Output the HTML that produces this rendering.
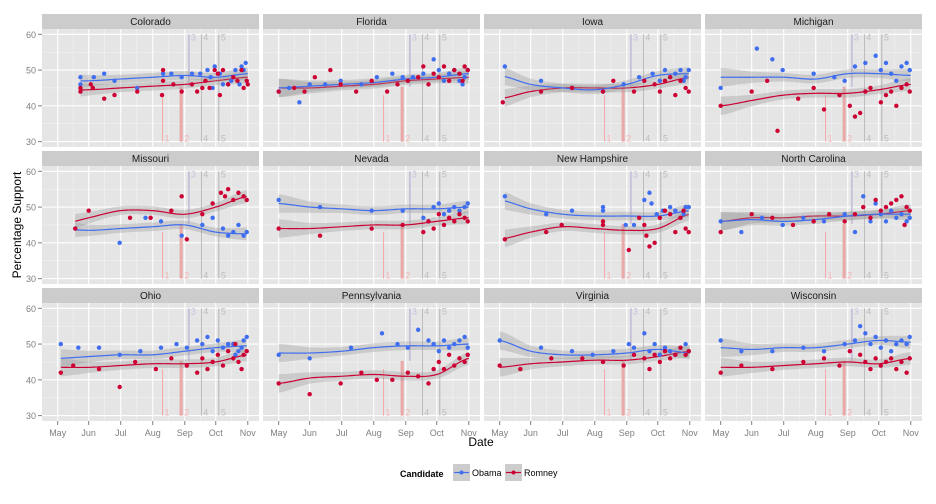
<!DOCTYPE html>
<html><head><meta charset="utf-8"><style>
body{margin:0;background:#fff;}
svg{display:block;font-family:"Liberation Sans",sans-serif;}
</style></head><body>
<svg id="chart" width="936" height="504"></svg>
<script>
const states=["Colorado","Florida","Iowa","Michigan","Missouri","Nevada","New Hampshire","North Carolina","Ohio","Pennsylvania","Virginia","Wisconsin"];
const trendDays=[0,30,61,92,123,153,184];
const trendStart=[22,0,5,0,17,0,5,0,3,0,0,0];
const obamaTrend=[[47,47,47.5,48,48.5,48,49],[45,45.5,46,46.5,47.5,48,49],[48.5,46,45,44.5,46,48.5,49],[48,48,48,47.5,49,49,48.5],[44,43.5,44,44.5,45,43,42.5],[51,50,49.5,49,49.5,49.5,50],[52,49.5,48,47.5,47.5,47.5,49],[46,46.5,46,46.5,47.5,48,48],[46,46.5,47,47,48,49,49.5],[47.5,47.5,48,49,49.5,49.5,50],[51,48,47,47,47.5,48.5,47.5],[49,48.5,49,49,50,51,50.5]];
const romneyTrend=[[44.5,44.5,45,45.5,46,47,48],[45,45,45.5,46,47,47.5,48],[42,44,45,45,45,46,48],[40,41.5,43,43.5,43.5,44.5,46],[45,47,49,49,48,50,53],[44,44,44.5,45,45,46,47],[41,43,44.5,44,43.5,44,48],[46,47,47,47.5,47.5,48,49],[43.5,43.5,44,44.5,44.5,45,47],[39,40.5,41,41.5,41,41.5,46],[43.5,44.5,45,45.5,45.5,46.5,48],[43.5,43.5,44,44.5,45,44.5,46]];
const ciHalf=[2.6,1.6,1.2,1.2,1.2,1.2,1.8];
const obamaPts=[
[[22,48],[22,46],[35,48],[45,49],[55,47],[77,45],[102,49],[110,49],[120,48],[130,49],[138,49],[145,50],[148,48],[152,51],[157,49],[165,46],[168,47],[172,50],[176,46],[178,51],[182,52],[180,50],[160,46],[150,45]],
[[0,44],[10,45],[20,41],[30,46],[45,46],[60,47],[80,46],[95,48],[110,49],[120,48],[130,48],[140,49],[150,53],[155,50],[160,47],[165,49],[170,50],[175,47],[180,48],[183,50],[178,46]],
[[5,51],[40,47],[70,45],[100,44],[120,46],[135,48],[148,49],[155,47],[160,50],[165,48],[170,49],[175,50],[180,48],[183,50],[178,47]],
[[0,45],[35,56],[50,53],[60,50],[90,49],[110,48],[120,47],[130,51],[140,52],[150,54],[155,50],[160,52],[165,49],[170,47],[175,51],[180,52],[183,50]],
[[17,44],[60,40],[85,47],[100,46],[120,42],[140,45],[150,47],[160,44],[165,42],[170,43],[175,45],[180,42],[183,43]],
[[0,52],[40,50],[90,49],[120,49],[140,47],[145,46],[150,50],[155,51],[160,48],[165,49],[170,50],[175,49],[180,50],[183,51]],
[[5,53],[45,48],[70,49],[100,50],[100,49],[122,45],[130,45],[140,52],[145,54],[147,51],[152,48],[158,49],[165,50],[170,49],[175,47],[180,50],[183,50],[178,48]],
[[0,46],[20,43],[40,47],[60,45],[80,47],[100,46],[120,48],[130,43],[138,53],[145,46],[150,51],[155,48],[160,46],[165,49],[170,47],[175,48],[180,46],[183,47]],
[[3,50],[20,49],[40,49],[60,47],[80,48],[100,49],[115,50],[125,49],[135,51],[140,50],[145,52],[150,48],[155,51],[160,49],[165,50],[170,50],[175,48],[180,51],[183,52],[178,49],[172,47]],
[[0,47],[30,46],[70,49],[100,53],[115,50],[125,49],[135,54],[145,51],[150,50],[155,48],[160,51],[165,49],[170,50],[175,51],[180,52],[183,49]],
[[0,51],[40,49],[70,48],[90,47],[110,48],[125,50],[130,49],[140,53],[145,48],[150,50],[155,47],[160,49],[165,48],[170,47],[175,49],[180,50],[183,48]],
[[0,51],[20,48],[50,48],[80,49],[100,48],[120,50],[130,51],[135,55],[140,53],[145,50],[150,52],[155,49],[160,51],[165,48],[170,50],[175,51],[180,50],[183,52]]
];
const romneyPts=[
[[22,45],[22,44],[32,46],[34,45],[45,42],[55,43],[77,44],[101,43],[102,47],[102,50],[112,46],[120,44],[130,46],[135,44],[140,45],[143,47],[147,45],[152,50],[155,49],[157,43],[160,50],[165,46],[170,48],[174,47],[178,50],[180,45],[183,47],[184,46]],
[[0,44],[15,45],[25,44],[35,48],[50,50],[60,46],[75,44],[90,47],[105,44],[115,46],[125,47],[135,48],[140,51],[145,46],[150,49],[155,48],[160,51],[165,47],[170,50],[175,49],[180,51],[183,50],[178,47]],
[[3,41],[40,44],[70,45],[100,44],[110,47],[130,44],[140,47],[150,46],[155,44],[160,47],[165,48],[170,43],[175,47],[180,45],[183,44]],
[[0,40],[30,44],[45,47],[55,33],[75,42],[90,45],[100,39],[115,43],[125,40],[130,37],[135,38],[140,44],[145,45],[155,41],[160,43],[165,44],[170,40],[175,45],[180,46],[183,44]],
[[17,44],[30,49],[70,47],[90,47],[110,49],[120,53],[125,41],[140,48],[150,51],[158,54],[162,53],[165,55],[170,52],[175,54],[180,53],[183,52]],
[[0,44],[40,42],[90,44],[120,45],[140,43],[145,46],[150,44],[155,48],[160,45],[165,47],[170,46],[175,48],[180,47],[183,46]],
[[5,41],[45,43],[60,45],[100,45],[100,46],[125,38],[135,47],[140,45],[142,42],[145,39],[150,40],[155,47],[160,49],[165,48],[170,43],[175,47],[180,44],[183,43],[178,49]],
[[0,43],[30,48],[50,47],[70,45],[90,46],[105,48],[120,46],[130,48],[138,50],[145,47],[150,52],[155,49],[160,50],[165,51],[170,52],[175,53],[180,50],[183,49],[178,45]],
[[3,42],[15,44],[40,43],[60,38],[75,45],[95,43],[110,46],[125,44],[135,42],[140,46],[145,43],[150,45],[155,47],[160,44],[165,48],[170,46],[175,45],[180,47],[183,48],[178,43],[172,50]],
[[0,39],[30,36],[60,39],[80,42],[95,40],[110,40],[125,42],[135,41],[145,39],[150,43],[155,45],[160,43],[165,47],[170,44],[175,46],[180,45],[183,47]],
[[0,44],[20,43],[50,46],[80,46],[100,45],[120,44],[130,47],[140,46],[145,43],[150,47],[155,45],[160,48],[165,46],[170,47],[175,49],[180,47],[183,48]],
[[0,42],[20,44],[50,43],[80,45],[100,46],[115,44],[125,48],[135,47],[140,45],[145,43],[150,46],[155,44],[160,45],[165,46],[170,43],[175,45],[180,42],[183,46]]
];
const yTicks=[30,40,50,60];
const monthLabels=["May","Jun","Jul","Aug","Sep","Oct","Nov"];
const monthDays=[0,30,61,92,123,153,184];
const eventDays=[101.5,119.5,127,139,156];

const NS="http://www.w3.org/2000/svg";
const svg=document.getElementById("chart");
function mk(tag,attrs,parent){const e=document.createElementNS(NS,tag);for(const k in attrs)e.setAttribute(k,attrs[k]);(parent||svg).appendChild(e);return e;}
const PW=217,PH=118,colX=c=>42+221*c,rowY=r=>29+137*r;
const xs=(c,d)=>colX(c)+15.7+d*1.033;
const ys=(r,v)=>rowY(r)+5.3+(60-v)*3.577;
function interp(arr,d){for(let i=0;i<trendDays.length-1;i++){if(d<=trendDays[i+1]){const t=(d-trendDays[i])/(trendDays[i+1]-trendDays[i]);const p0=arr[Math.max(0,i-1)],p1=arr[i],p2=arr[i+1],p3=arr[Math.min(arr.length-1,i+2)];const t2=t*t,t3=t2*t;return 0.5*((2*p1)+(-p0+p2)*t+(2*p0-5*p1+4*p2-p3)*t2+(-p0+3*p1-3*p2+p3)*t3);}}return arr[arr.length-1];}
function ciAt(d){return interp(ciHalf,d);}

states.forEach((name,i)=>{
  const c=i%4,r=Math.floor(i/4);const g=mk("g",{});
  
  
  mk("rect",{x:colX(c),y:rowY(r)-15,width:PW,height:15,fill:"#cccccc"},g);
  const st=mk("text",{x:colX(c)+PW/2,y:rowY(r)-4,"text-anchor":"middle","font-size":"10",fill:"#1a1a1a"},g);st.textContent=name;
  
  mk("rect",{x:colX(c),y:rowY(r),width:PW,height:PH,fill:"#e5e5e5"},g);
  [35,45,55].forEach(v=>mk("line",{x1:colX(c),x2:colX(c)+PW,y1:ys(r,v),y2:ys(r,v),stroke:"#f2f2f2","stroke-width":0.6},g));
  for(let k=0;k<6;k++){const d=(monthDays[k]+monthDays[k+1])/2;mk("line",{x1:xs(c,d),x2:xs(c,d),y1:rowY(r),y2:rowY(r)+PH,stroke:"#f2f2f2","stroke-width":0.6},g);}
  yTicks.forEach(v=>mk("line",{x1:colX(c),x2:colX(c)+PW,y1:ys(r,v),y2:ys(r,v),stroke:"#fff","stroke-width":1.1},g));
  monthDays.forEach(d=>mk("line",{x1:xs(c,d),x2:xs(c,d),y1:rowY(r),y2:rowY(r)+PH,stroke:"#fff","stroke-width":1.1},g));
  const yb=ys(r,30);
  mk("line",{x1:xs(c,eventDays[0]),x2:xs(c,eventDays[0]),y1:yb,y2:ys(r,43),stroke:"#f4a6a6","stroke-width":1},g);
  mk("rect",{x:xs(c,118),y:ys(r,45.3),width:xs(c,121)-xs(c,118),height:yb-ys(r,45.3),fill:"#eaa8a8"},g);
  mk("line",{x1:xs(c,eventDays[2]),x2:xs(c,eventDays[2]),y1:ys(r,60),y2:ys(r,45.3),stroke:"#c4bcd8","stroke-width":1.6},g);
  mk("line",{x1:xs(c,eventDays[3]),x2:xs(c,eventDays[3]),y1:ys(r,60),y2:yb,stroke:"#a8a8a8","stroke-width":0.8},g);
  mk("line",{x1:xs(c,eventDays[4]),x2:xs(c,eventDays[4]),y1:ys(r,60),y2:yb,stroke:"#a8a8a8","stroke-width":0.8},g);
  [["1",0,yb,"#f4b4b4"],["2",1,yb,"#f4b4b4"],["4",3,yb,"#bdbdbd"],["5",4,yb,"#bdbdbd"],["3",2,ys(r,60)+6,"#c8c0dc"],["4",3,ys(r,60)+6,"#bdbdbd"],["5",4,ys(r,60)+6,"#bdbdbd"]].forEach(l=>{
    const t=mk("text",{x:xs(c,eventDays[l[1]])+(l[1]==1?3:2),y:l[2],"font-size":"9",fill:l[3]},g);t.textContent=l[0];});
  [[romneyTrend[i],"#cc0033"],[obamaTrend[i],"#3f6ef0"]].forEach(([tr,col])=>{
    const s=trendStart[i];let up=[],lo=[],mid=[];
    for(let d=s;d<=184;d+=2){const v=interp(tr,d),w=ciAt(d);mid.push([xs(c,d),ys(r,v)]);up.push([xs(c,d),ys(r,v+w)]);lo.push([xs(c,d),ys(r,v-w)]);}
    const band=mk("path",{d:"M"+up.map(p=>p.join(",")).join("L")+"L"+lo.reverse().map(p=>p.join(",")).join("L")+"Z",fill:"#999","fill-opacity":0.35},g);
    
    const ln=mk("path",{d:"M"+mid.map(p=>p.join(",")).join("L"),fill:"none",stroke:col,"stroke-width":1.2},g);
    
  });
  [[obamaPts[i],"#3f6ef0"],[romneyPts[i],"#cc0033"]].forEach(([pts,col])=>pts.forEach(p=>{
    const pt=mk("circle",{cx:xs(c,p[0]),cy:ys(r,p[1]),r:2.2,fill:col},g);
    
  }));
  if(c==0) yTicks.forEach(v=>{mk("line",{x1:colX(c)-4,x2:colX(c),y1:ys(r,v),y2:ys(r,v),stroke:"#7f7f7f"},g);const t=mk("text",{x:colX(c)-6,y:ys(r,v)+3.5,"text-anchor":"end","font-size":"9",fill:"#7f7f7f"},g);t.textContent=v;});
  if(r==2) monthDays.forEach((d,k)=>{mk("line",{x1:xs(c,d),x2:xs(c,d),y1:rowY(r)+PH,y2:rowY(r)+PH+4,stroke:"#7f7f7f"},g);const t=mk("text",{x:xs(c,d),y:rowY(r)+PH+15,"text-anchor":"middle","font-size":"9",fill:"#7f7f7f"},g);t.textContent=monthLabels[k];});
});
const xt=mk("text",{x:481,y:446,"text-anchor":"middle","font-size":"12",fill:"#000"});xt.textContent="Date";

const yt=mk("text",{x:0,y:0,transform:"translate(21,225) rotate(-90)","text-anchor":"middle","font-size":"12",fill:"#000"});yt.textContent="Percentage Support";

const lg=mk("g",{});
const lt=mk("text",{x:400,y:477,"font-size":"9","font-weight":"bold",fill:"#000"},lg);lt.textContent="Candidate";
[["Obama","#3f6ef0",453],["Romney","#cc0033",505]].forEach(([n,col,x])=>{
  const e=mk("g",{},lg);
  mk("rect",{x:x,y:464,width:17,height:17,fill:"#cccccc"},e);
  mk("line",{x1:x+1,x2:x+16,y1:472.5,y2:472.5,stroke:col,"stroke-width":1.2},e);
  mk("circle",{cx:x+8.5,cy:472.5,r:2,fill:col},e);
  const t=mk("text",{x:x+19,y:476,"font-size":"9",fill:"#000"},e);t.textContent=n;
});
</script>
</body></html>
